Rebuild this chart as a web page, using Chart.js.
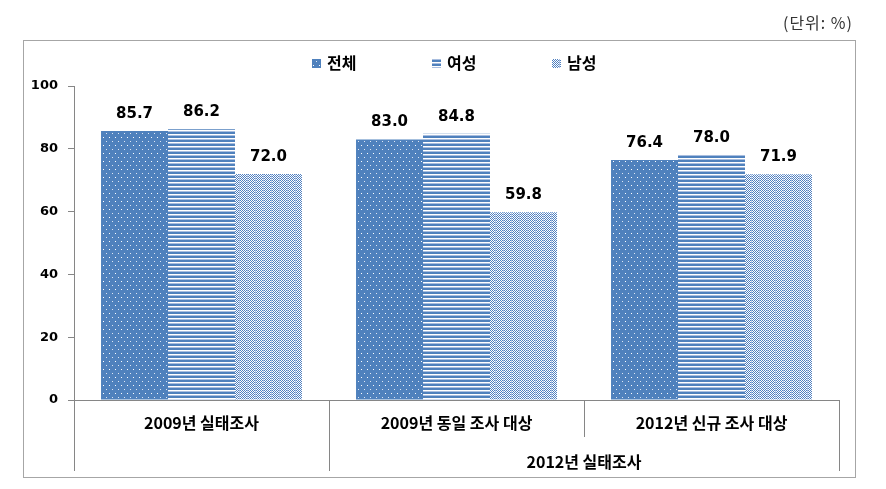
<!DOCTYPE html>
<html>
<head>
<meta charset="utf-8">
<script src="https://cdn.jsdelivr.net/npm/chart.js@4"></script>
<style>
  html, body { margin: 0; padding: 0; background: #ffffff; }
  #wrap { width: 886px; height: 489px; position: relative; }
</style>
</head>
<body>
<div id="wrap"><canvas id="c" width="886" height="489"></canvas></div>
<script>
// ---- data ----
const categories = ['2009년 실태조사', '2009년 동일 조사 대상', '2012년 신규 조사 대상'];
const seriesNames = ['전체', '여성', '남성'];
const totalValues = [85.7, 83.0, 76.4];
const femaleValues = [86.2, 84.8, 78.0];
const maleValues = [72.0, 59.8, 71.9];
const groupLabel = '2012년 실태조사';
const groupStartIndex = 1; // group covers categories 1..2
const unitLabel = '(단위: %)';
const yMin = 0, yMax = 100, yStep = 20;

// ---- patterns ----
const BLUE = '#4F81BD';
function makePattern(w, h, drawFn) {
  const c = document.createElement('canvas');
  c.width = w; c.height = h;
  const g = c.getContext('2d');
  drawFn(g);
  return document.getElementById('c').getContext('2d').createPattern(c, 'repeat');
}
const dotPattern = makePattern(6, 8, g => {
  g.fillStyle = BLUE; g.fillRect(0, 0, 6, 8);
  g.fillStyle = '#ffffff';
  g.fillRect(1, 1, 1, 1);
  g.fillStyle = '#dfe7f3';
  g.fillRect(4, 5, 1, 1);
});
const stripePattern = makePattern(4, 4, g => {
  g.fillStyle = '#ffffff'; g.fillRect(0, 0, 4, 4);
  g.fillStyle = BLUE; g.fillRect(0, 0, 4, 2);
  g.fillStyle = '#a9bedf'; g.fillRect(0, 3, 4, 1);
});
const checkPattern = makePattern(8, 2, g => {
  g.fillStyle = '#ffffff'; g.fillRect(0, 0, 8, 2);
  g.fillStyle = '#5080c0';
  for (let x = 0; x < 8; x++) {
    g.fillRect(x, x % 2, 1, 1);
  }
  g.fillStyle = '#a9bfe2';
  g.fillRect(7, 0, 1, 2);
});
const patterns = [dotPattern, stripePattern, checkPattern];

const numFont = '"DejaVu Sans", Verdana, sans-serif';
const krFont = '"Noto Sans CJK KR", "Noto Sans", sans-serif';
const AXIS = '#868686';

const overlay = {
  id: 'overlay',
  afterDatasetsDraw(chart) {
    const ctx = chart.ctx;
    const x = chart.scales.x;
    const area = chart.chartArea;
    ctx.save();
    // data labels
    ctx.font = 'bold 15px ' + numFont;
    ctx.fillStyle = '#000000';
    ctx.textAlign = 'center';
    ctx.textBaseline = 'middle';
    chart.data.datasets.forEach((ds, di) => {
      const meta = chart.getDatasetMeta(di);
      meta.data.forEach((bar, i) => {
        ctx.fillText(ds.data[i].toFixed(1), bar.x, bar.y - 17);
      });
    });

    // category separators
    const n = categories.length;
    const bounds = [area.left];
    for (let i = 0; i < n - 1; i++) {
      bounds.push(Math.round((x.getPixelForValue(i) + x.getPixelForValue(i + 1)) / 2));
    }
    bounds.push(area.right);
    ctx.strokeStyle = AXIS;
    ctx.lineWidth = 1;
    bounds.forEach((bx, i) => {
      const inner = i > groupStartIndex && i < n;
      const bottom = inner ? area.bottom + 37 : area.bottom + 71;
      ctx.beginPath();
      ctx.moveTo(Math.round(bx) + 0.5, area.bottom);
      ctx.lineTo(Math.round(bx) + 0.5, bottom);
      ctx.stroke();
    });
    // group label
    ctx.font = 'bold 16px ' + krFont;
    ctx.fillStyle = '#000000';
    ctx.textAlign = 'center';
    ctx.textBaseline = 'middle';
    ctx.fillText(groupLabel, (bounds[groupStartIndex] + area.right) / 2, area.bottom + 62);

    // outer border
    ctx.strokeStyle = '#a6a6a6';
    ctx.lineWidth = 1;
    ctx.strokeRect(23.5, 40.5, 832, 437);

    // unit label
    ctx.font = '16px ' + krFont;
    ctx.fillStyle = '#333333';
    ctx.textAlign = 'right';
    ctx.letterSpacing = '1px';
    ctx.fillText(unitLabel, 853, 23);
    ctx.letterSpacing = '0px';

    // legend
    const legendX = [312, 432, 552];
    const legendY = 63;
    chart.data.datasets.forEach((ds, di) => {
      const lx = legendX[di];
      ctx.fillStyle = ds.backgroundColor;
      ctx.fillRect(lx, legendY - 4, 9, 9);
      ctx.font = 'bold 16px ' + krFont;
      ctx.fillStyle = '#000000';
      ctx.textAlign = 'left';
      ctx.fillText(ds.label, lx + 15, legendY);
    });
    ctx.restore();
  }
};

new Chart(document.getElementById('c'), {
  type: 'bar',
  data: {
    labels: categories,
    datasets: [
      { label: seriesNames[0], data: totalValues, backgroundColor: patterns[0] },
      { label: seriesNames[1], data: femaleValues, backgroundColor: patterns[1] },
      { label: seriesNames[2], data: maleValues, backgroundColor: patterns[2] }
    ]
  },
  options: {
    responsive: false,
    animation: false,
    events: [],
    layout: { padding: { left: 0, right: 47, top: 86, bottom: 0 } },
    datasets: { bar: { barPercentage: 1.0, categoryPercentage: 0.788, borderWidth: 0 } },
    plugins: { legend: { display: false }, tooltip: { enabled: false } },
    scales: {
      x: {
        offset: true,
        grid: { display: false, drawTicks: false },
        border: { display: true, color: AXIS, width: 1 },
        ticks: {
          color: '#000000',
          font: { family: krFont, size: 16, weight: 'bold' },
          padding: 13,
          maxRotation: 0,
          autoSkip: false
        },
        afterFit(scale) { scale.height = 89; }
      },
      y: {
        min: yMin, max: yMax,
        ticks: {
          stepSize: yStep,
          color: '#000000',
          font: { family: numFont, size: 13, weight: 'bold' },
          padding: 10
        },
        grid: { display: true, drawOnChartArea: false, drawTicks: true, tickLength: 6, color: AXIS },
        border: { display: true, color: AXIS, width: 1 },
        afterFit(scale) { scale.width = 74; }
      }
    }
  },
  plugins: [overlay]
});
</script>
</body>
</html>
